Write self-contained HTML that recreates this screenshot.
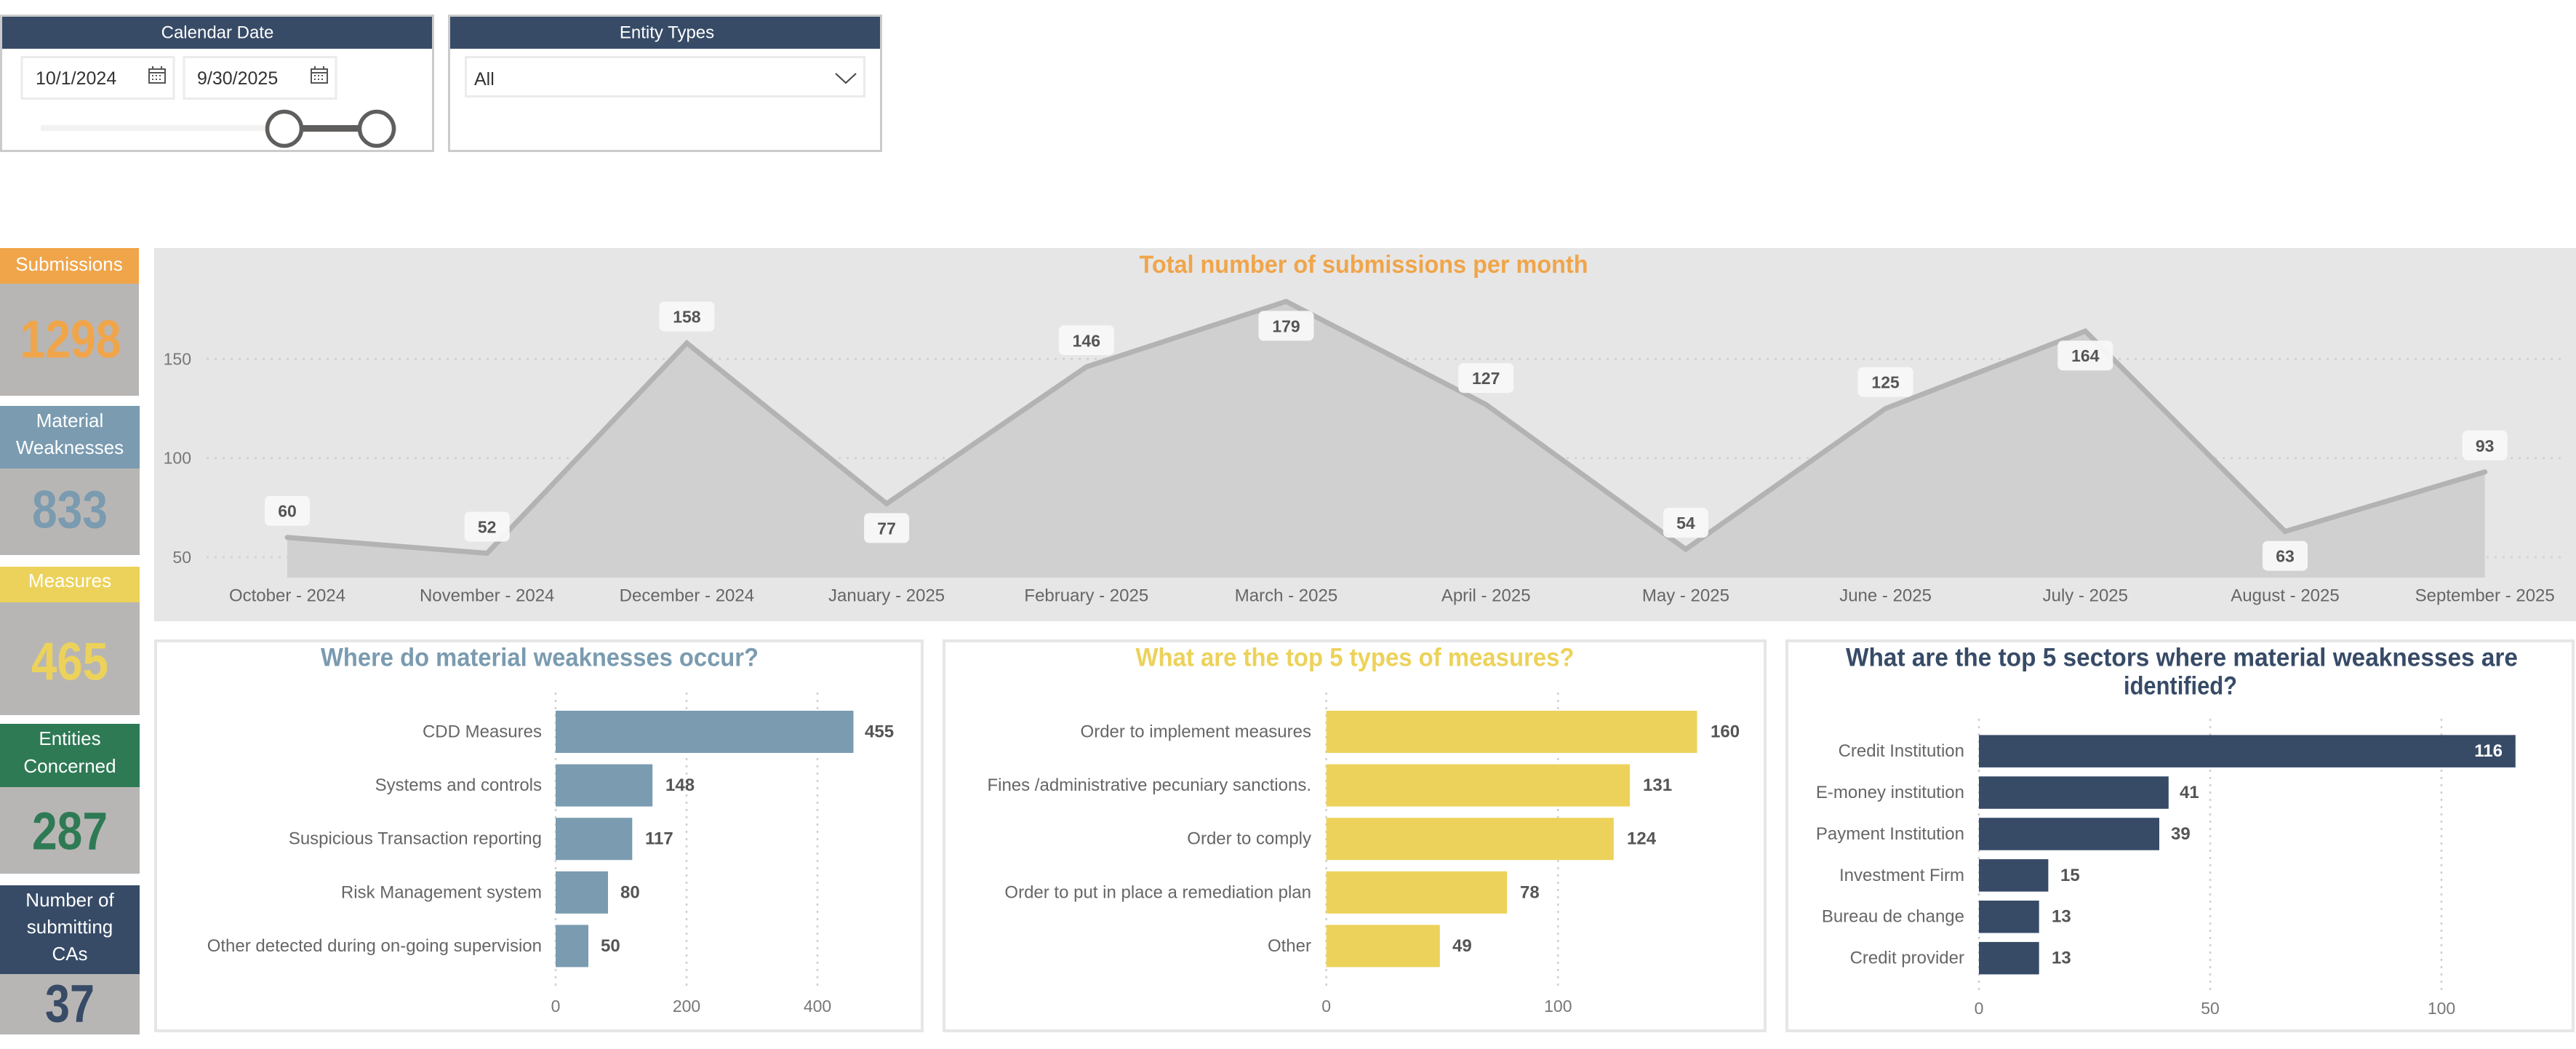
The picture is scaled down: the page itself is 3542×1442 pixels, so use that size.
<!DOCTYPE html>
<html><head><meta charset="utf-8"><style>
html,body{margin:0;padding:0;background:#fff;width:3542px;height:1442px;overflow:hidden}
svg{display:block}
text{font-family:"Liberation Sans",sans-serif}
</style></head><body>
<svg xmlns="http://www.w3.org/2000/svg" width="3542" height="1442" viewBox="0 0 3542 1442">
<!-- Slicer: Calendar Date -->
<rect x="1.5" y="21.5" width="594" height="186" fill="#fff" stroke="#cbcbcb" stroke-width="3"/>
<rect x="3" y="23" width="591" height="44" fill="#374B67"/>
<text x="299" y="45" fill="#fff" font-size="24" text-anchor="middle" dominant-baseline="central">Calendar Date</text>
<rect x="30" y="78.5" width="209" height="57" fill="#fff" stroke="#ebebeb" stroke-width="3"/>
<text x="49" y="108" fill="#333" font-size="25" dominant-baseline="central">10/1/2024</text>
<g stroke="#555" stroke-width="2" fill="none"><rect x="205" y="95" width="22" height="19"/><line x1="205" y1="100" x2="227" y2="100"/><line x1="210" y1="91" x2="210" y2="96"/><line x1="222" y1="91" x2="222" y2="96"/></g>
<g fill="#555"><rect x="209" y="103" width="2" height="2"/><rect x="214" y="103" width="2" height="2"/><rect x="219" y="103" width="2" height="2"/><rect x="209" y="108" width="2" height="2"/><rect x="214" y="108" width="2" height="2"/><rect x="219" y="108" width="2" height="2"/></g>
<rect x="253" y="78.5" width="209" height="57" fill="#fff" stroke="#ebebeb" stroke-width="3"/>
<text x="271" y="108" fill="#333" font-size="25" dominant-baseline="central">9/30/2025</text>
<g stroke="#555" stroke-width="2" fill="none"><rect x="428" y="95" width="22" height="19"/><line x1="428" y1="100" x2="450" y2="100"/><line x1="433" y1="91" x2="433" y2="96"/><line x1="445" y1="91" x2="445" y2="96"/></g>
<g fill="#555"><rect x="432" y="103" width="2" height="2"/><rect x="437" y="103" width="2" height="2"/><rect x="442" y="103" width="2" height="2"/><rect x="432" y="108" width="2" height="2"/><rect x="437" y="108" width="2" height="2"/><rect x="442" y="108" width="2" height="2"/></g>
<rect x="56" y="172" width="490" height="8" fill="#f3f2f1"/>
<rect x="390" y="172" width="128" height="9" fill="#605E5C"/>
<circle cx="391" cy="177" r="23.5" fill="#fff" stroke="#605E5C" stroke-width="5.5"/>
<circle cx="518" cy="177" r="23.5" fill="#fff" stroke="#605E5C" stroke-width="5.5"/>
<!-- Slicer: Entity Types -->
<rect x="617.5" y="21.5" width="594" height="186" fill="#fff" stroke="#cbcbcb" stroke-width="3"/>
<rect x="619" y="23" width="591" height="44" fill="#374B67"/>
<text x="917" y="45" fill="#fff" font-size="24" text-anchor="middle" dominant-baseline="central">Entity Types</text>
<rect x="640.5" y="78.5" width="548" height="54" fill="#fff" stroke="#ebebeb" stroke-width="3"/>
<text x="652" y="109" fill="#333" font-size="25" dominant-baseline="central">All</text>
<polyline points="1149,101 1163,114 1177,101" fill="none" stroke="#444" stroke-width="2"/>

<!-- KPI tiles -->
<rect x="0" y="341" width="191" height="49" fill="#F0A54A"/>
<text x="95" y="363" fill="#fff" font-size="26" text-anchor="middle" dominant-baseline="central">Submissions</text>
<rect x="0" y="390" width="191" height="154" fill="#B8B6B4"/>
<text x="97" y="467" fill="#F0A54A" font-size="73" font-weight="bold" text-anchor="middle" dominant-baseline="central" textLength="139" lengthAdjust="spacingAndGlyphs">1298</text>

<rect x="0" y="558" width="192" height="86" fill="#7A9BB0"/>
<text x="96" y="578" fill="#fff" font-size="26" text-anchor="middle" dominant-baseline="central">Material</text>
<text x="96" y="615" fill="#fff" font-size="26" text-anchor="middle" dominant-baseline="central">Weaknesses</text>
<rect x="0" y="644" width="192" height="119" fill="#B8B6B4"/>
<text x="96" y="701" fill="#7A9BB0" font-size="73" font-weight="bold" text-anchor="middle" dominant-baseline="central" textLength="104" lengthAdjust="spacingAndGlyphs">833</text>

<rect x="0" y="779" width="192" height="49" fill="#ECD25A"/>
<text x="96" y="798" fill="#fff" font-size="26" text-anchor="middle" dominant-baseline="central">Measures</text>
<rect x="0" y="828" width="192" height="155" fill="#B8B6B4"/>
<text x="96" y="910" fill="#ECD25A" font-size="73" font-weight="bold" text-anchor="middle" dominant-baseline="central" textLength="106" lengthAdjust="spacingAndGlyphs">465</text>

<rect x="0" y="995" width="192" height="87" fill="#2E7A55"/>
<text x="96" y="1015" fill="#fff" font-size="26" text-anchor="middle" dominant-baseline="central">Entities</text>
<text x="96" y="1053" fill="#fff" font-size="26" text-anchor="middle" dominant-baseline="central">Concerned</text>
<rect x="0" y="1082" width="192" height="119" fill="#B8B6B4"/>
<text x="96" y="1143" fill="#2E7A55" font-size="73" font-weight="bold" text-anchor="middle" dominant-baseline="central" textLength="104" lengthAdjust="spacingAndGlyphs">287</text>

<rect x="0" y="1217" width="192" height="122" fill="#374B67"/>
<text x="96" y="1237" fill="#fff" font-size="26" text-anchor="middle" dominant-baseline="central">Number of</text>
<text x="96" y="1274" fill="#fff" font-size="26" text-anchor="middle" dominant-baseline="central">submitting</text>
<text x="96" y="1311" fill="#fff" font-size="26" text-anchor="middle" dominant-baseline="central">CAs</text>
<rect x="0" y="1339" width="192" height="83" fill="#B8B6B4"/>
<text x="96" y="1380" fill="#374B67" font-size="73" font-weight="bold" text-anchor="middle" dominant-baseline="central" textLength="68" lengthAdjust="spacingAndGlyphs">37</text>

<!-- Top line chart -->
<rect x="212" y="341" width="3330" height="513" fill="#E6E6E6"/>
<text x="1875" y="364" fill="#F0A54A" font-size="34" font-weight="bold" text-anchor="middle" dominant-baseline="central" textLength="617" lengthAdjust="spacingAndGlyphs">Total number of submissions per month</text>
<g stroke="#d0d0d0" stroke-width="2.5" stroke-dasharray="3 8">
<line x1="284" y1="493.4" x2="3525" y2="493.4"/>
<line x1="284" y1="629.7" x2="3525" y2="629.7"/>
<line x1="284" y1="766" x2="3525" y2="766"/>
</g>
<g fill="#777" font-size="23" text-anchor="end" dominant-baseline="central">
<text x="263" y="493.4">150</text>
<text x="263" y="629.7">100</text>
<text x="263" y="766">50</text>
</g>
<path d="M395,794 L395,738.74 L669.7,760.55 L944.4,471.59 L1219.1,692.4 L1493.8,504.3 L1768.5,414.35 L2043.2,556.1 L2317.9,755.1 L2592.6,561.55 L2867.3,455.24 L3142,730.56 L3416.7,648.78 L3416.7,794 Z" fill="#D0D0D0"/>
<polyline points="395,738.74 669.7,760.55 944.4,471.59 1219.1,692.4 1493.8,504.3 1768.5,414.35 2043.2,556.1 2317.9,755.1 2592.6,561.55 2867.3,455.24 3142,730.56 3416.7,648.78" fill="none" stroke="#B3B3B3" stroke-width="7" stroke-linejoin="miter" stroke-linecap="round"/>
<g fill="#F8F8F8" fill-opacity="0.95">
<rect x="364" y="681.7" width="62" height="41" rx="7"/>
<rect x="638.7" y="703.5" width="62" height="41" rx="7"/>
<rect x="906.4" y="414.6" width="76" height="41" rx="7"/>
<rect x="1188.1" y="705.4" width="62" height="41" rx="7"/>
<rect x="1455.8" y="447.3" width="76" height="41" rx="7"/>
<rect x="1730.5" y="427.4" width="76" height="41" rx="7"/>
<rect x="2005.2" y="499.1" width="76" height="41" rx="7"/>
<rect x="2286.9" y="698.1" width="62" height="41" rx="7"/>
<rect x="2554.6" y="504.6" width="76" height="41" rx="7"/>
<rect x="2829.3" y="468.2" width="76" height="41" rx="7"/>
<rect x="3111" y="743.6" width="62" height="41" rx="7"/>
<rect x="3385.7" y="591.8" width="62" height="41" rx="7"/>
</g>
<g fill="#555" font-size="23" font-weight="bold" text-anchor="middle" dominant-baseline="central">
<text x="395" y="702.7">60</text>
<text x="669.7" y="724.5">52</text>
<text x="944.4" y="435.6">158</text>
<text x="1219.1" y="726.4">77</text>
<text x="1493.8" y="468.3">146</text>
<text x="1768.5" y="448.4">179</text>
<text x="2043.2" y="520.1">127</text>
<text x="2317.9" y="719.1">54</text>
<text x="2592.6" y="525.6">125</text>
<text x="2867.3" y="489.2">164</text>
<text x="3142" y="764.6">63</text>
<text x="3416.7" y="612.8">93</text>
</g>
<g fill="#666" font-size="24" text-anchor="middle" dominant-baseline="central">
<text x="395" y="819">October - 2024</text>
<text x="669.7" y="819">November - 2024</text>
<text x="944.4" y="819">December - 2024</text>
<text x="1219.1" y="819">January - 2025</text>
<text x="1493.8" y="819">February - 2025</text>
<text x="1768.5" y="819">March - 2025</text>
<text x="2043.2" y="819">April - 2025</text>
<text x="2317.9" y="819">May - 2025</text>
<text x="2592.6" y="819">June - 2025</text>
<text x="2867.3" y="819">July - 2025</text>
<text x="3142" y="819">August - 2025</text>
<text x="3416.7" y="819">September - 2025</text>
</g>

<!-- Panel 1 -->
<rect x="214" y="881" width="1054" height="536" fill="#fff" stroke="#e6e6e6" stroke-width="4"/>
<text x="742" y="904" fill="#7A9BB0" font-size="35" font-weight="bold" text-anchor="middle" dominant-baseline="central" textLength="602" lengthAdjust="spacingAndGlyphs">Where do material weaknesses occur?</text>
<g stroke="#d0d0d0" stroke-width="2.5" stroke-dasharray="3 7">
<line x1="764" y1="952" x2="764" y2="1362"/>
<line x1="944" y1="952" x2="944" y2="1362"/>
<line x1="1124" y1="952" x2="1124" y2="1362"/>
</g>
<g fill="#7A9BB0">
<rect x="764" y="977" width="409.5" height="58"/>
<rect x="764" y="1050.6" width="133.2" height="58"/>
<rect x="764" y="1124.2" width="105.3" height="58"/>
<rect x="764" y="1197.8" width="72" height="58"/>
<rect x="764" y="1271.4" width="45" height="58"/>
</g>
<g fill="#666" font-size="24" text-anchor="end" dominant-baseline="central">
<text x="745" y="1006">CDD Measures</text>
<text x="745" y="1079.6">Systems and controls</text>
<text x="745" y="1153.2">Suspicious Transaction reporting</text>
<text x="745" y="1226.8">Risk Management system</text>
<text x="745" y="1300.4">Other detected during on-going supervision</text>
</g>
<g fill="#555" font-size="24" font-weight="bold" dominant-baseline="central">
<text x="1189" y="1006">455</text>
<text x="915" y="1079.6">148</text>
<text x="887" y="1153.2">117</text>
<text x="853" y="1226.8">80</text>
<text x="826" y="1300.4">50</text>
</g>
<g fill="#777" font-size="23" text-anchor="middle" dominant-baseline="central">
<text x="764" y="1383">0</text>
<text x="944" y="1383">200</text>
<text x="1124" y="1383">400</text>
</g>

<!-- Panel 2 -->
<rect x="1298" y="881" width="1129" height="536" fill="#fff" stroke="#e6e6e6" stroke-width="4"/>
<text x="1863" y="904" fill="#ECD25A" font-size="35" font-weight="bold" text-anchor="middle" dominant-baseline="central" textLength="603" lengthAdjust="spacingAndGlyphs">What are the top 5 types of measures?</text>
<g stroke="#d0d0d0" stroke-width="2.5" stroke-dasharray="3 7">
<line x1="1823.6" y1="952" x2="1823.6" y2="1362"/>
<line x1="2142.3" y1="952" x2="2142.3" y2="1362"/>
</g>
<g fill="#ECD25A">
<rect x="1823.6" y="977" width="509.9" height="58"/>
<rect x="1823.6" y="1050.6" width="417.5" height="58"/>
<rect x="1823.6" y="1124.2" width="395.2" height="58"/>
<rect x="1823.6" y="1197.8" width="248.6" height="58"/>
<rect x="1823.6" y="1271.4" width="156.2" height="58"/>
</g>
<g fill="#666" font-size="24" text-anchor="end" dominant-baseline="central">
<text x="1803" y="1006">Order to implement measures</text>
<text x="1803" y="1079.6">Fines /administrative pecuniary sanctions.</text>
<text x="1803" y="1153.2">Order to comply</text>
<text x="1803" y="1226.8">Order to put in place a remediation plan</text>
<text x="1803" y="1300.4">Other</text>
</g>
<g fill="#555" font-size="24" font-weight="bold" dominant-baseline="central">
<text x="2352" y="1006">160</text>
<text x="2259" y="1079.6">131</text>
<text x="2237" y="1153.2">124</text>
<text x="2090" y="1226.8">78</text>
<text x="1997" y="1300.4">49</text>
</g>
<g fill="#777" font-size="23" text-anchor="middle" dominant-baseline="central">
<text x="1823.6" y="1383">0</text>
<text x="2142.3" y="1383">100</text>
</g>

<!-- Panel 3 -->
<rect x="2457" y="881" width="1081" height="536" fill="#fff" stroke="#e6e6e6" stroke-width="4"/>
<text x="3000" y="904" fill="#374B67" font-size="35" font-weight="bold" text-anchor="middle" dominant-baseline="central" textLength="924" lengthAdjust="spacingAndGlyphs">What are the top 5 sectors where material weaknesses are</text>
<text x="2998" y="943" fill="#374B67" font-size="35" font-weight="bold" text-anchor="middle" dominant-baseline="central" textLength="156" lengthAdjust="spacingAndGlyphs">identified?</text>
<g stroke="#d0d0d0" stroke-width="2.5" stroke-dasharray="3 7">
<line x1="2721" y1="988" x2="2721" y2="1365"/>
<line x1="3039" y1="988" x2="3039" y2="1365"/>
<line x1="3357" y1="988" x2="3357" y2="1365"/>
</g>
<g fill="#374B67">
<rect x="2721" y="1010.4" width="737.8" height="44.5"/>
<rect x="2721" y="1067.3" width="260.8" height="44.5"/>
<rect x="2721" y="1124.2" width="248" height="44.5"/>
<rect x="2721" y="1181.1" width="95.4" height="44.5"/>
<rect x="2721" y="1238" width="82.7" height="44.5"/>
<rect x="2721" y="1294.9" width="82.7" height="44.5"/>
</g>
<g fill="#666" font-size="24" text-anchor="end" dominant-baseline="central">
<text x="2701" y="1032.6">Credit Institution</text>
<text x="2701" y="1089.5">E-money institution</text>
<text x="2701" y="1146.4">Payment Institution</text>
<text x="2701" y="1203.3">Investment Firm</text>
<text x="2701" y="1260.2">Bureau de change</text>
<text x="2701" y="1317.1">Credit provider</text>
</g>
<text x="3441" y="1032.6" fill="#fff" font-size="24" font-weight="bold" text-anchor="end" dominant-baseline="central">116</text>
<g fill="#555" font-size="24" font-weight="bold" dominant-baseline="central">
<text x="2997" y="1089.5">41</text>
<text x="2985" y="1146.4">39</text>
<text x="2833" y="1203.3">15</text>
<text x="2821" y="1260.2">13</text>
<text x="2821" y="1317.1">13</text>
</g>
<g fill="#777" font-size="23" text-anchor="middle" dominant-baseline="central">
<text x="2721" y="1386">0</text>
<text x="3039" y="1386">50</text>
<text x="3357" y="1386">100</text>
</g>
</svg>
</body></html>
